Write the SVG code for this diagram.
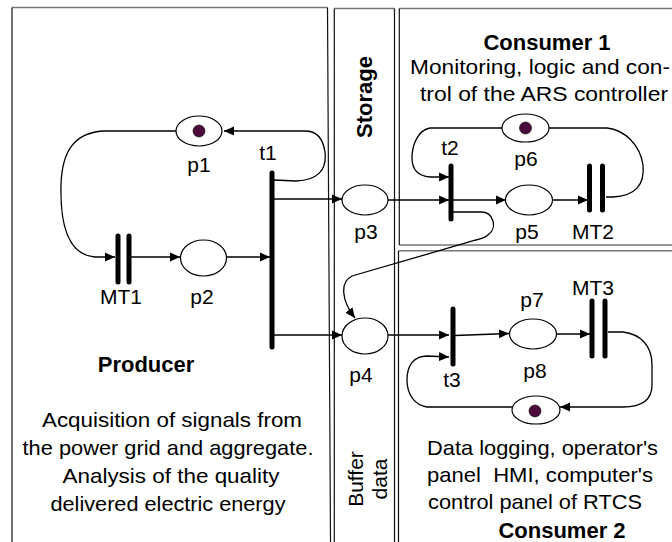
<svg xmlns="http://www.w3.org/2000/svg" width="672" height="542" viewBox="0 0 672 542">
<style>
text{font-family:"Liberation Sans",Arial,sans-serif;font-size:21px;fill:#000}
.b{font-weight:bold;font-size:22px}
.m{text-anchor:middle}
.pl{fill:#fff;stroke:#000;stroke-width:1.2}
.tok{fill:#4a0a3c;stroke:#000;stroke-width:0.6}
.tr{stroke:#000;stroke-width:5;stroke-linecap:round;fill:none}
.arc{fill:none;stroke:#000;stroke-width:1.3}
.hz{stroke:#777;stroke-width:1.5;fill:none}
.vt{stroke:#111;stroke-width:1.2;fill:none}
</style>
<defs>
<marker id="ah" viewBox="0 0 10 10" refX="10" refY="5" markerUnits="userSpaceOnUse" markerWidth="10" markerHeight="10" orient="auto">
<path d="M0,0.5 L10,5 L0,9.5 Z" fill="#000"/>
</marker>
</defs>
<rect width="672" height="542" fill="#fff"/>

<g id="regions">
<g id="producer-box">
<path class="hz" d="M12,7.5 H327.5"/>
<path class="vt" d="M12,7.5 V542 M327.5,7.5 L330.5,542"/>
<text class="b m" x="146" y="372">Producer</text>
<text class="m" x="172" y="427" textLength="260" lengthAdjust="spacingAndGlyphs">Acquisition of signals from</text>
<text class="m" x="168" y="455" textLength="291" lengthAdjust="spacingAndGlyphs">the power grid and aggregate.</text>
<text class="m" x="171" y="483" textLength="217" lengthAdjust="spacingAndGlyphs">Analysis of the quality</text>
<text class="m" x="168" y="511" textLength="235" lengthAdjust="spacingAndGlyphs">delivered electric energy</text>
</g>
<g id="storage-box">
<path class="hz" d="M334.3,8.5 H394.5"/>
<path class="vt" d="M334.3,8.5 V542 M394.5,8.5 V542"/>
<text class="b m" transform="translate(372,97) rotate(-90)">Storage</text>
<text class="m" transform="translate(363,479) rotate(-90)">Buffer</text>
<text class="m" transform="translate(387,479) rotate(-90)">data</text>
</g>
<g id="consumer1-box">
<path class="hz" d="M399.3,8.5 H672 M399.3,245 H672"/>
<path class="vt" d="M399.3,8.5 V245"/>
<text class="b m" x="547" y="50">Consumer 1</text>
<text x="410" y="74" textLength="260" lengthAdjust="spacingAndGlyphs">Monitoring, logic and con-</text>
<text x="420" y="101" textLength="248" lengthAdjust="spacingAndGlyphs">trol of the ARS controller</text>
</g>
<g id="consumer2-box">
<path class="hz" d="M398.5,250.7 H672"/>
<path class="vt" d="M398.5,250.7 V542"/>
<text x="427" y="455" textLength="231" lengthAdjust="spacingAndGlyphs">Data logging, operator's</text>
<text x="427" y="482" textLength="226" lengthAdjust="spacingAndGlyphs" xml:space="preserve">panel  HMI, computer's</text>
<text x="428" y="509" textLength="214" lengthAdjust="spacingAndGlyphs">control panel of RTCS</text>
<text class="b m" x="562" y="538">Consumer 2</text>
</g>
</g>

<g id="connectors">
<path class="arc" marker-end="url(#ah)" d="M176,131 L103,131 C75,133 62,150 61,185 C60,225 68,255 95,257 L115,257"/>
<path class="arc" marker-end="url(#ah)" d="M274,180 L296,181 C318,180 327,170 325,152 C323,138 316,131 305,131 L224,131"/>
<path class="arc" marker-end="url(#ah)" d="M131,257 H180"/>
<path class="arc" marker-end="url(#ah)" d="M226,257 H270"/>
<path class="arc" marker-end="url(#ah)" d="M274,199 H342"/>
<path class="arc" marker-end="url(#ah)" d="M274,335 H342"/>
<path class="arc" marker-end="url(#ah)" d="M388,200 H449"/>
<path class="arc" marker-end="url(#ah)" d="M453,200 H506"/>
<path class="arc" marker-end="url(#ah)" d="M553,200 H588"/>
<path class="arc" d="M549,128 L607,128 C625,130 640,145 643,165 C645,185 635,196 613,197 L606,197"/>
<path class="arc" marker-end="url(#ah)" d="M502,128 L430,128 C418,130 412,145 412,158 C412,170 418,176 430,177 L449,177"/>
<path class="arc" marker-end="url(#ah)" d="M453,212 H481 C494,212 497,228 489,234 C485,238 481,239 476,240 L352,276 C340,282 341,300 355,318"/>
<path class="arc" marker-end="url(#ah)" d="M388,335 H449"/>
<path class="arc" marker-end="url(#ah)" d="M455,335.5 L509,333.5"/>
<path class="arc" marker-end="url(#ah)" d="M556,334 H590"/>
<path class="arc" marker-end="url(#ah)" d="M608,332 L623,332 C640,334 652,345 652,365 L652,385 C652,400 642,407 623,407 L560,407"/>
<path class="arc" marker-end="url(#ah)" d="M512,407 L427,407 C415,405 407,395 407,380 C407,365 414,356 427,356 L449,357"/>
</g>

<g id="p1"><ellipse class="pl" cx="199" cy="131" rx="23" ry="15"/><circle class="tok" cx="199" cy="131" r="6"/><text class="m" x="199" y="172">p1</text></g>
<g id="p2"><ellipse class="pl" cx="203.5" cy="258" rx="23" ry="18"/><text class="m" x="202" y="304">p2</text></g>
<g id="t1"><line class="tr" x1="272" y1="173" x2="272" y2="347"/><text class="m" x="268" y="160">t1</text></g>
<g id="MT1"><line class="tr" x1="118" y1="236" x2="118" y2="282"/><line class="tr" x1="129" y1="236" x2="129" y2="282"/><text class="m" x="121" y="304">MT1</text></g>
<g id="p3"><ellipse class="pl" cx="365" cy="200" rx="23" ry="15"/><text class="m" x="366" y="239">p3</text></g>
<g id="p4"><ellipse class="pl" cx="365" cy="336" rx="23" ry="18"/><text class="m" x="361" y="382">p4</text></g>
<g id="t2"><line class="tr" x1="451" y1="166" x2="451" y2="219"/><text class="m" x="450" y="155">t2</text></g>
<g id="p5"><ellipse class="pl" cx="529" cy="200" rx="23.5" ry="15"/><text class="m" x="527" y="239">p5</text></g>
<g id="MT2"><line class="tr" x1="589.5" y1="166" x2="589.5" y2="210"/><line class="tr" x1="602.5" y1="166" x2="602.5" y2="210"/><text class="m" x="593" y="239">MT2</text></g>
<g id="p6"><ellipse class="pl" cx="525.5" cy="128" rx="23.5" ry="14"/><circle class="tok" cx="525.5" cy="128" r="6"/><text class="m" x="526" y="166">p6</text></g>
<g id="t3"><line class="tr" x1="453" y1="309" x2="453" y2="364"/><text class="m" x="452" y="387">t3</text></g>
<g id="p7"><ellipse class="pl" cx="533" cy="334" rx="23.5" ry="15"/><text class="m" x="532" y="307">p7</text></g>
<g id="MT3"><line class="tr" x1="592" y1="301" x2="592" y2="356"/><line class="tr" x1="605" y1="301" x2="605" y2="356"/><text class="m" x="593" y="295">MT3</text></g>
<g id="p8"><ellipse class="pl" cx="536" cy="410" rx="24" ry="14"/><circle class="tok" cx="535" cy="411" r="6"/><text class="m" x="535" y="378">p8</text></g>
</svg>
